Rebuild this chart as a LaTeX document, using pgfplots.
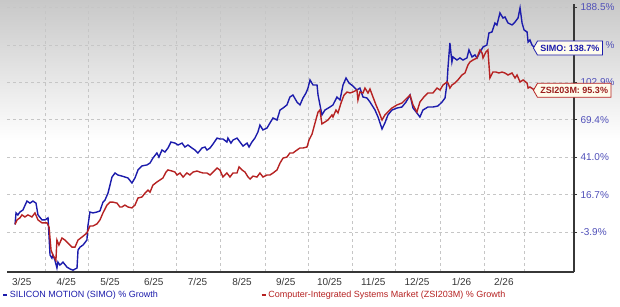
\documentclass[border=0pt]{standalone}
\usepackage{pgfplots}
\pgfplotsset{compat=1.18}
\usepackage{pgfplotstable}
\usepackage{fontspec}
\setmainfont{Liberation Sans}
\usetikzlibrary{shapes.symbols}
\definecolor{simo}{RGB}{28,28,172}
\definecolor{zsi}{RGB}{182,34,34}
\definecolor{ylab}{RGB}{80,80,185}
\definecolor{gridc}{RGB}{198,198,198}
\definecolor{axc}{RGB}{55,55,55}
\definecolor{boxfill}{RGB}{255,252,236}
% d = days since 1 Mar 2025, v = % growth
\pgfplotstableread{
d v
9.8 0
10.5 6.2
11.8 5.1
13.2 6.7
15.3 7.8
18.1 12.9
20.2 11.7
22.3 12.9
24.4 11.7
25.8 5.1
28.6 2.4
30.7 2.4
32.8 3.5
34.2 -15.0
35.5 -16.4
36.2 -15.0
37.6 -17.3
39.0 -20.8
39.7 -18.2
41.1 -19.5
43.2 -18.2
46.0 -20.4
48.1 -21.2
50.2 -21.7
53.0 -20.8
53.7 -12.7
55.1 -11.3
57.2 -10.3
59.9 -7.9
60.6 -0.8
62.0 6.7
64.1 6.2
66.9 6.7
69.0 7.3
71.1 12.3
72.5 13.5
74.6 17.6
77.4 27.6
79.5 30.2
81.5 28.9
84.3 28.2
86.4 27.6
88.5 27.0
91.3 23.8
93.4 27.0
95.5 32.2
98.3 34.9
101.8 35.6
103.9 36.9
105.9 40.3
108.7 43.9
110.1 41.0
112.2 46.0
114.3 44.6
116.4 47.5
118.5 51.9
121.3 51.1
123.4 49.7
126.2 51.1
128.2 48.2
130.3 49.7
133.1 47.5
135.2 46.0
137.3 43.9
140.1 47.5
142.2 48.2
143.6 46.0
145.7 47.5
147.8 50.4
150.6 54.9
152.6 54.2
154.7 54.2
157.5 51.9
158.2 54.9
160.3 51.1
161.7 53.4
164.5 54.9
166.6 51.9
168.7 48.9
171.5 51.1
172.9 48.2
174.9 51.9
177.0 54.9
179.1 59.6
180.5 65.1
182.6 61.2
185.4 62.7
187.5 66.8
189.6 70.9
192.4 69.2
194.5 77.6
196.6 79.3
199.3 82.0
201.4 89.1
203.5 90.9
206.3 84.6
208.4 82.0
210.5 88.2
212.6 92.8
214.0 97.4
215.4 105.2
217.5 100.3
220.3 100.3
221.0 90.9
223.7 73.4
225.8 77.6
229.3 80.2
231.4 82.0
234.2 89.1
236.3 86.4
238.4 100.3
240.5 107.1
242.6 102.2
245.3 99.4
248.1 95.6
250.2 97.4
252.3 89.1
255.1 88.2
257.2 84.6
260.7 77.6
262.8 71.7
265.6 62.0
267.6 66.8
269.7 73.4
272.5 77.6
276.0 79.3
279.5 80.2
282.3 84.6
285.1 90.9
287.2 79.3
289.9 75.1
292.0 71.7
294.1 77.6
297.6 80.2
301.1 80.2
304.6 81.1
307.4 84.6
309.5 88.2
310.9 102.2
311.6 118.3
312.9 144.5
314.3 123.5
315.0 128.9
317.8 125.6
319.9 127.8
322.0 125.6
324.8 127.8
326.2 136.6
328.3 128.9
330.4 131.1
331.8 127.8
333.9 134.3
336.0 139.9
338.7 142.2
340.1 156.2
342.2 157.4
344.3 168.5
345.7 166.0
347.8 181.3
349.9 174.8
351.3 176.1
353.4 168.5
356.2 166.0
358.3 169.7
360.4 174.8
361.8 188.0
363.2 168.5
364.6 159.9
366.7 157.4
367.4 145.6
368.7 147.9
370.1 142.2
372.2 138.7
}\simodata
\pgfplotstableread{
d v
9.8 0
11.2 2.4
13.2 3.5
14.6 5.1
16.7 4.0
18.8 5.1
21.6 4.0
23.7 6.2
25.8 2.4
28.6 0.8
32.1 0.8
33.5 -1.3
34.9 -12.7
36.2 -15.0
38.3 -17.3
39.0 -7.9
40.4 -10.3
42.5 -6.9
44.6 -7.9
46.7 -9.4
49.5 -11.3
51.6 -11.3
53.7 -7.9
56.5 -6.4
59.9 -4.4
62.0 -0.8
64.1 -0.8
66.9 0.3
69.0 2.4
71.1 6.2
73.9 10.6
76.0 12.3
78.1 12.3
80.9 11.7
82.9 9.5
84.3 9.5
86.4 10.6
88.5 9.5
91.3 9.0
93.4 10.6
95.5 14.7
98.3 15.3
100.4 17.6
102.5 19.4
103.9 18.2
105.9 22.5
108.7 24.4
110.8 25.7
112.9 27.0
115.0 30.8
116.4 32.2
119.2 31.5
121.3 30.8
122.7 28.9
124.8 30.2
126.9 27.6
129.6 30.2
131.7 28.9
133.8 30.8
136.6 31.5
138.7 30.8
140.8 30.2
143.6 30.2
145.7 28.9
147.8 30.8
150.6 33.5
152.6 32.2
154.7 27.6
157.5 30.2
159.6 27.6
161.7 30.2
164.5 30.2
165.9 34.2
168.0 32.2
170.1 30.8
172.2 27.6
173.6 26.3
175.6 28.2
178.4 27.6
180.5 30.2
182.6 27.6
185.4 28.9
187.5 28.9
189.6 30.2
192.4 32.2
194.5 36.9
196.6 40.3
199.3 41.0
201.4 43.9
203.5 43.9
206.3 46.0
208.4 47.5
210.5 47.5
213.3 48.2
214.7 53.4
216.8 57.9
218.9 66.8
221.0 75.9
222.3 77.6
223.7 66.0
225.8 67.6
227.9 69.2
230.7 73.4
231.4 71.7
233.5 77.6
234.9 75.1
237.0 83.7
239.1 90.9
241.2 93.7
243.3 92.8
245.3 93.7
248.1 95.6
248.8 86.4
250.2 93.7
252.3 92.8
253.7 97.4
255.8 92.8
257.2 96.5
259.3 89.1
261.4 82.0
263.5 75.9
265.6 69.2
267.6 73.4
269.7 75.9
272.5 79.3
276.0 82.0
279.5 83.7
283.0 88.2
285.1 90.9
287.2 82.0
289.9 75.9
292.0 84.6
294.8 89.1
297.6 92.8
301.1 92.8
303.9 97.4
306.0 95.6
308.1 100.3
310.9 103.2
311.6 102.2
312.9 97.4
314.3 100.3
316.4 102.2
318.5 105.2
321.3 110.1
323.4 112.1
325.5 120.4
326.9 123.5
329.0 125.6
331.8 127.8
332.5 131.1
333.9 136.6
335.3 133.2
336.0 127.8
338.0 134.3
339.4 136.6
340.8 107.1
342.9 113.1
345.0 113.1
347.1 112.1
349.2 113.1
351.3 112.1
353.4 110.1
356.2 112.1
358.3 107.1
359.7 110.1
361.8 103.2
363.9 105.2
366.7 102.2
367.4 97.4
368.7 98.4
372.2 95.3
}\zsidata

\begin{document}
\begin{tikzpicture}[x=1pt,y=1pt]
\useasboundingbox (0,0) rectangle (620,306);
\fill[white] (0,0) rectangle (620,306);
\shade[top color={rgb,255:red,200;green,200;blue,200}, bottom color=white] (0,165) rectangle (620,306);
\begin{axis}[
  at={(7pt,34pt)}, anchor=south west,
  scale only axis, width=567pt, height=268pt,
  xmin=4.2, xmax=399.4,
  ymode=log, ymin=98.5, ymax=314.3,
  axis x line*=bottom, axis y line*=right,
  axis line style={axc, line width=1.6pt, -},
  xtick={31,61,92,122,153,184,214,245,275,306,337,365},
  xticklabels={},
  extra x ticks={14.5,45.5,76,106.5,137,168,198.5,229,259.5,290,321,350.5},
  extra x tick labels={3/25,4/25,5/25,6/25,7/25,8/25,9/25,10/25,11/25,12/25,1/26,2/26},
  extra x tick style={grid=none, major tick length=0pt},
  xtick style={draw=none},
  xmajorgrids, ymajorgrids,
  grid style={gridc, dashed, line width=0.6pt},
  ytick={117.1,137.7,162,190.4,223.9,263.3,309.5},
  yticklabels={-3.9\%,16.7\%,41.0\%,69.4\%,102.9\%,\phantom{142.3}\%,188.5\%},
  ytick style={axc, line width=0.8pt},
  tick align=outside, major tick length=3pt,
  minor tick num=0,
  yticklabel style={font=\fontsize{10}{12}\selectfont, text=ylab},
  xticklabel style={font=\fontsize{10}{12}\selectfont, text=axc, yshift=-3pt},
  legend style={at={(axis description cs:0,0)}, anchor=north west,
    xshift=-5pt, yshift=-17pt, draw=none, fill=none,
    font=\fontsize{9}{10}\selectfont, inner sep=0pt,
    /tikz/every even column/.append style={column sep=101pt}},
  legend columns=2, legend cell align=left,
  legend image code/.code={\draw[#1, line width=1.6pt] (0pt,0pt) -- (4pt,0pt);},
]
\addplot[simo, line width=1.4pt] table[x=d, y expr=\thisrow{v}+121] {\simodata};
\addlegendentry{\textcolor{simo}{SILICON MOTION (SIMO) \% Growth}}
\addplot[zsi, line width=1.4pt] table[x=d, y expr=\thisrow{v}+121] {\zsidata};
\addlegendentry{\textcolor{zsi}{Computer-Integrated Systems Market (ZSI203M) \% Growth}}
\coordinate (simoend) at (axis cs:372.2,259.7);
\coordinate (zsiend) at (axis cs:372.2,216.3);
\end{axis}
\node[signal, signal to=west, signal pointer angle=120, draw=simo, fill=boxfill,
  text=simo, font=\bfseries\fontsize{9}{10}\selectfont, inner xsep=3pt, inner ysep=2pt,
  minimum height=14pt, anchor=west, line width=0.8pt] at ([xshift=-2pt]simoend) {SIMO: 138.7\%};
\node[signal, signal to=west, signal pointer angle=120, draw=zsi, fill=boxfill,
  text=zsi!85!black, font=\bfseries\fontsize{9}{10}\selectfont, inner xsep=3pt, inner ysep=2pt,
  minimum height=14pt, anchor=west, line width=0.8pt] at ([xshift=-2pt]zsiend) {ZSI203M: 95.3\%};
\end{tikzpicture}
\end{document}
